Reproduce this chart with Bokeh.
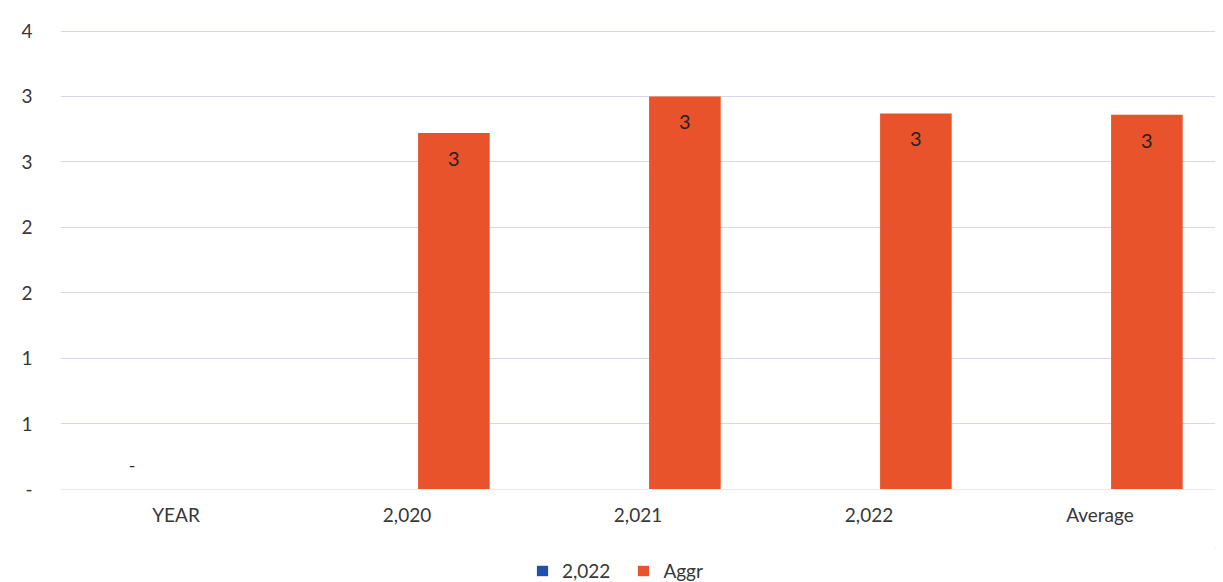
from bokeh.plotting import figure
from bokeh.layouts import column
from bokeh.models import (ColumnDataSource, FactorRange, Range1d, FixedTicker,
                          CustomJSTickFormatter, Legend, LegendItem)
from bokeh.transform import dodge
from bokeh.core.properties import value
from bokeh.embed import file_html
from bokeh.resources import INLINE

categories = ["YEAR", "2,020", "2,021", "2,022", "Average"]
series_2022 = [0, None, None, None, None]
series_aggr = [None, 2.72, 3.00, 2.87, 2.86]
labels_2022 = ["-", "", "", "", ""]
labels_aggr = ["", "3", "3", "3", "3"]
y_ticks = [0, 0.5, 1.0, 1.5, 2.0, 2.5, 3.0, 3.5]
legend_names = ["2,022", "Aggr"]

FONT = "Lato"
BLUE = "#1F4FB0"
ORANGE = "#E9532B"
TXT = "#383838"
NAN = float("nan")

src = ColumnDataSource(dict(
    cat=categories,
    s2022=[v if v is not None else NAN for v in series_2022],
    aggr=[v if v is not None else NAN for v in series_aggr],
    lab2022=labels_2022,
    labaggr=labels_aggr,
))

p = figure(width=1223, height=548, output_backend="svg", toolbar_location=None,
           x_range=FactorRange(*categories, range_padding=0),
           y_range=Range1d(-0.003, 3.504),
           min_border_left=60, min_border_right=8, min_border_top=30,
           min_border_bottom=59)

p.outline_line_color = None
p.background_fill_color = "white"
p.border_fill_color = "white"

p.vbar(x=dodge("cat", -0.19, range=p.x_range), bottom=0, top="s2022", width=0.31,
       source=src, fill_color=BLUE, line_color=None)
p.vbar(x=dodge("cat", 0.203, range=p.x_range), bottom=0, top="aggr", width=0.31,
       source=src, fill_color=ORANGE, line_color=None)

p.text(x=dodge("cat", -0.19, range=p.x_range), y="s2022", text="lab2022", source=src,
       text_align="center", text_baseline="middle", y_offset=-24,
       text_font=value(FONT), text_font_size="18px", text_color="#333333")
p.text(x=dodge("cat", 0.203, range=p.x_range), y="aggr", text="labaggr", source=src,
       text_align="center", text_baseline="middle", y_offset=26,
       text_font=value(FONT), text_font_size="20px", text_color="#222222")

# axes
p.yaxis.ticker = FixedTicker(ticks=y_ticks)
p.yaxis.formatter = CustomJSTickFormatter(code="return tick == 0 ? '-' : String(Math.round(tick));")
p.yaxis.axis_line_color = None
p.yaxis.major_tick_line_color = None
p.yaxis.minor_tick_line_color = None
p.yaxis.major_tick_out = 0
p.yaxis.major_tick_in = 0
p.yaxis.major_label_standoff = 28
p.yaxis.major_label_text_font = FONT
p.yaxis.major_label_text_font_size = "19px"
p.yaxis.major_label_text_color = TXT

p.xaxis.axis_line_color = None
p.xaxis.major_tick_line_color = None
p.xaxis.minor_tick_line_color = None
p.xaxis.major_tick_out = 0
p.xaxis.major_tick_in = 0
p.xaxis.major_label_standoff = 13
p.xaxis.major_label_text_font = FONT
p.xaxis.major_label_text_font_size = "19px"
p.xaxis.major_label_text_color = TXT

p.xgrid.grid_line_color = None
p.ygrid.grid_line_color = "#D6D6EC"
p.ygrid.grid_line_width = 1

# legend strip below the chart
lf = figure(width=1223, height=34, output_backend="svg", toolbar_location=None,
            x_range=Range1d(0, 1), y_range=Range1d(0, 1),
            min_border=0)
lf.axis.visible = False
lf.grid.visible = False
lf.outline_line_color = None
lf.border_fill_color = "white"
lf.background_fill_color = "white"
lr1 = lf.vbar(x=[5], bottom=[5], top=[6], width=0.1, fill_color=BLUE, line_color=None)
lr2 = lf.vbar(x=[5], bottom=[5], top=[6], width=0.1, fill_color=ORANGE, line_color=None)
legend = Legend(items=[LegendItem(label=legend_names[0], renderers=[lr1]),
                       LegendItem(label=legend_names[1], renderers=[lr2])],
                orientation="horizontal", location=(475, 0),
                glyph_width=14, glyph_height=13, label_text_font=FONT,
                label_text_font_size="19px", label_text_color=TXT,
                border_line_color=None, background_fill_alpha=0,
                spacing=26, label_standoff=13, padding=0, margin=0)
lf.add_layout(legend)

layout = column(p, lf, spacing=0)
open("out.html", "w").write(file_html(layout, INLINE))
